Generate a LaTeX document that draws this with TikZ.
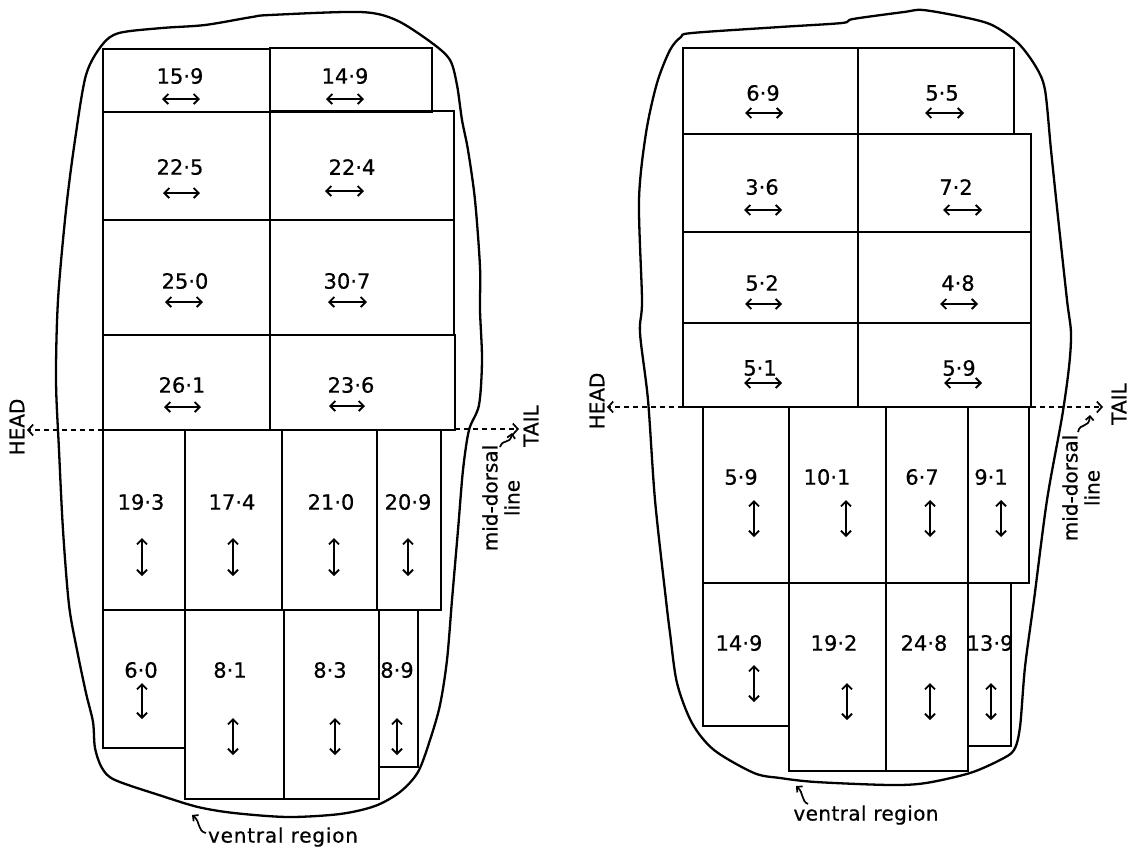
\documentclass[tikz,border=0pt]{standalone}
\usepackage{fontspec}
\setmainfont{DejaVu Sans}[FakeBold=0.6]
\usetikzlibrary{arrows.meta}
\begin{document}
\begin{tikzpicture}[x=1pt,y=-1pt,
  cell/.style={line width=2.1pt, line join=miter},
  outline/.style={line width=2.3pt},
  num/.style={inner sep=0pt, font=\fontsize{21}{24}\selectfont},
  lbl/.style={inner sep=0pt, font=\fontsize{20}{22}\selectfont},
  dbl/.style={line width=1.8pt, {Straight Barb[length=5pt,width=10pt]}-{Straight Barb[length=5pt,width=10pt]}},
  axis/.style={line width=1.7pt, dash pattern=on 5pt off 4pt, -{Straight Barb[length=5pt,width=11pt]}},
  hook/.style={line width=1.7pt, -{Straight Barb[length=4pt,width=8pt]}}
]
\useasboundingbox (0,0) rectangle (1130,847);
\fill[white] (0,0) rectangle (1130,847);

% ================= LEFT FIGURE =================
\draw[outline] plot[smooth cycle, tension=0.5] coordinates {
 (102,45) (119,33) (162,28) (205,25) (252,17) (270,15) (360,12) (396,20) (432,43) (450,60) (457,85) (462,120) (468,150) (475,200) (480,267) (480,310) (482,360) (479,405) (469,430) (463,470) (458,530) (452,600) (447,660) (440,705) (430,740) (418,772) (400,792) (375,806) (340,814) (288,817) (234,813) (198,807) (162,796) (115,780) (102,768) (95,748) (93,722) (86,693) (77,650) (69,605) (63,530) (59,450) (56,380) (58,300) (66,210) (75,140) (86,75)};

% dorsal rows
\draw[cell] (103,49) rectangle (270,112);
\draw[cell] (270,48) rectangle (432,112);
\draw[cell] (103,112) rectangle (270,220);
\draw[cell] (270,111) rectangle (454,220);
\draw[cell] (103,220) rectangle (270,335);
\draw[cell] (270,220) rectangle (454,335);
\draw[cell] (103,335) rectangle (270,430);
\draw[cell] (270,335) rectangle (455,430);
% middle row
\draw[cell] (103,430) rectangle (185,610);
\draw[cell] (185,430) rectangle (282,610);
\draw[cell] (282,430) rectangle (377,610);
\draw[cell] (377,430) rectangle (441,610);
% bottom row
\draw[cell] (103,610) rectangle (185,748);
\draw[cell] (185,610) rectangle (284,799);
\draw[cell] (284,610) rectangle (379,799);
\draw[cell] (379,610) rectangle (418,767);

\node[num] (L11) at (180,76) {15·9};
\node[num] (L12) at (345,76) {14·9};
\node[num] (L21) at (180,167) {22·5};
\node[num] (L22) at (352,167) {22·4};
\node[num] (L31) at (185,281) {25·0};
\node[num] (L32) at (347,281) {30·7};
\node[num] (L41) at (182,385) {26·1};
\node[num] (L42) at (351,385) {23·6};
\node[num] (L51) at (141,502) {19·3};
\node[num] (L52) at (232,502) {17·4};
\node[num] (L53) at (331,502) {21·0};
\node[num] (L54) at (408,502) {20·9};
\node[num] (L61) at (141,670) {6·0};
\node[num] (L62) at (230,670) {8·1};
\node[num] (L63) at (330,670) {8·3};
\node[num] (L64) at (397,670) {8·9};

\draw[dbl] (162,99) -- (200,99);
\draw[dbl] (326,99) -- (364,99);
\draw[dbl] (163,193) -- (200,193);
\draw[dbl] (325,191) -- (364,191);
\draw[dbl] (165,302) -- (203,302);
\draw[dbl] (328,302) -- (367,302);
\draw[dbl] (164,407) -- (201,407);
\draw[dbl] (329,406) -- (365,406);
\draw[dbl] (142,538) -- (142,576);
\draw[dbl] (233,538) -- (233,576);
\draw[dbl] (334,538) -- (334,576);
\draw[dbl] (408,538) -- (408,576);
\draw[dbl] (142,683) -- (142,719);
\draw[dbl] (233,718) -- (233,755);
\draw[dbl] (335,718) -- (335,755);
\draw[dbl] (397,718) -- (397,755);

\node[lbl, rotate=90] (headL) at (17,427) {HEAD};
\node[lbl, rotate=90] (tailL) at (531,426) {TAIL};
\node[lbl, rotate=90, align=center] (mdL) at (501,498) {mid-dorsal\\line};
\node[lbl] (venL) at (283,837) {\addfontfeature{LetterSpace=4}ventral region};

\coordinate (hL1) at (103,430);
\coordinate (hL2) at (27,430);
\coordinate (tL1) at (455,429);
\coordinate (tL2) at (519,429);
\draw[axis] (hL1) -- (hL2);
\draw[axis] (tL1) -- (tL2);
\draw[hook] (500,447) .. controls (503,438) and (510,445) .. (512,433);
\draw[hook] (206,833) .. controls (197,831) and (201,822) .. (192,815);

% ================= RIGHT FIGURE =================
\draw[outline] plot[smooth cycle, tension=0.5] coordinates {
 (681,37) (692,33) (780,27) (842,23) (853,19) (904,12) (923,10) (963,17) (992,25) (1018,43) (1036,67) (1045,90) (1051,150) (1058,217) (1067,300) (1071,333) (1069,367) (1062,417) (1047,500) (1034,600) (1025,667) (1020,727) (1014,750) (1000,760) (970,773) (926,783) (890,785) (816,782) (780,778) (754,773) (714,750) (692,723) (677,683) (670,633) (666,600) (655,500) (648,400) (640,333) (642,300) (639,200) (646,133) (657,83) (670,50)};

\draw[cell] (683,48) rectangle (858,134);
\draw[cell] (858,48) rectangle (1014,134);
\draw[cell] (683,134) rectangle (858,232);
\draw[cell] (858,134) rectangle (1031,232);
\draw[cell] (683,232) rectangle (858,323);
\draw[cell] (858,232) rectangle (1031,323);
\draw[cell] (683,323) rectangle (858,407);
\draw[cell] (858,323) rectangle (1031,407);
\draw[cell] (703,407) rectangle (789,583);
\draw[cell] (789,407) rectangle (886,583);
\draw[cell] (886,407) rectangle (968,583);
\draw[cell] (968,407) rectangle (1029,583);
\draw[cell] (703,583) rectangle (789,726);
\draw[cell] (789,583) rectangle (886,771);
\draw[cell] (886,583) rectangle (968,771);
\draw[cell] (968,583) rectangle (1011,746);

\node[num] (R11) at (763,93) {6·9};
\node[num] (R12) at (942,93) {5·5};
\node[num] (R21) at (762,187) {3·6};
\node[num] (R22) at (956,187) {7·2};
\node[num] (R31) at (762,283) {5·2};
\node[num] (R32) at (958,283) {4·8};
\node[num] (R41) at (760,368) {5·1};
\node[num] (R42) at (959,368) {5·9};
\node[num] (R51) at (741,477) {5·9};
\node[num] (R52) at (827,477) {10·1};
\node[num] (R53) at (922,477) {6·7};
\node[num] (R54) at (991,477) {9·1};
\node[num] (R61) at (739,643) {14·9};
\node[num] (R62) at (834,643) {19·2};
\node[num] (R63) at (924,643) {24·8};
\node[num] (R64) at (990,643) {13·9};

\draw[dbl] (745,113) -- (783,113);
\draw[dbl] (925,113) -- (964,113);
\draw[dbl] (744,210) -- (782,210);
\draw[dbl] (943,210) -- (982,210);
\draw[dbl] (745,304) -- (782,304);
\draw[dbl] (940,304) -- (978,304);
\draw[dbl] (744,383) -- (782,383);
\draw[dbl] (944,383) -- (982,383);
\draw[dbl] (754,500) -- (754,537);
\draw[dbl] (846,500) -- (846,537);
\draw[dbl] (930,500) -- (930,537);
\draw[dbl] (1001,500) -- (1001,537);
\draw[dbl] (754,665) -- (754,702);
\draw[dbl] (847,683) -- (847,720);
\draw[dbl] (930,683) -- (930,720);
\draw[dbl] (991,683) -- (991,720);

\node[lbl, rotate=90] (headR) at (597,401) {HEAD};
\node[lbl, rotate=90] (tailR) at (1119,404) {TAIL};
\node[lbl, rotate=90, align=center] (mdR) at (1081,488) {mid-dorsal\\line};
\node[lbl] (venR) at (866,815) {\addfontfeature{LetterSpace=2}ventral region};

\coordinate (hR1) at (683,407);
\coordinate (hR2) at (607,407);
\coordinate (tR1) at (1031,407);
\coordinate (tR2) at (1103,407);
\draw[axis] (hR1) -- (hR2);
\draw[axis] (tR1) -- (tR2);
\draw[hook] (1078,432) .. controls (1080,422) and (1089,429) .. (1090,415);
\draw[hook] (808,804) .. controls (801,801) and (804,793) .. (796,786);
\end{tikzpicture}
\end{document}
